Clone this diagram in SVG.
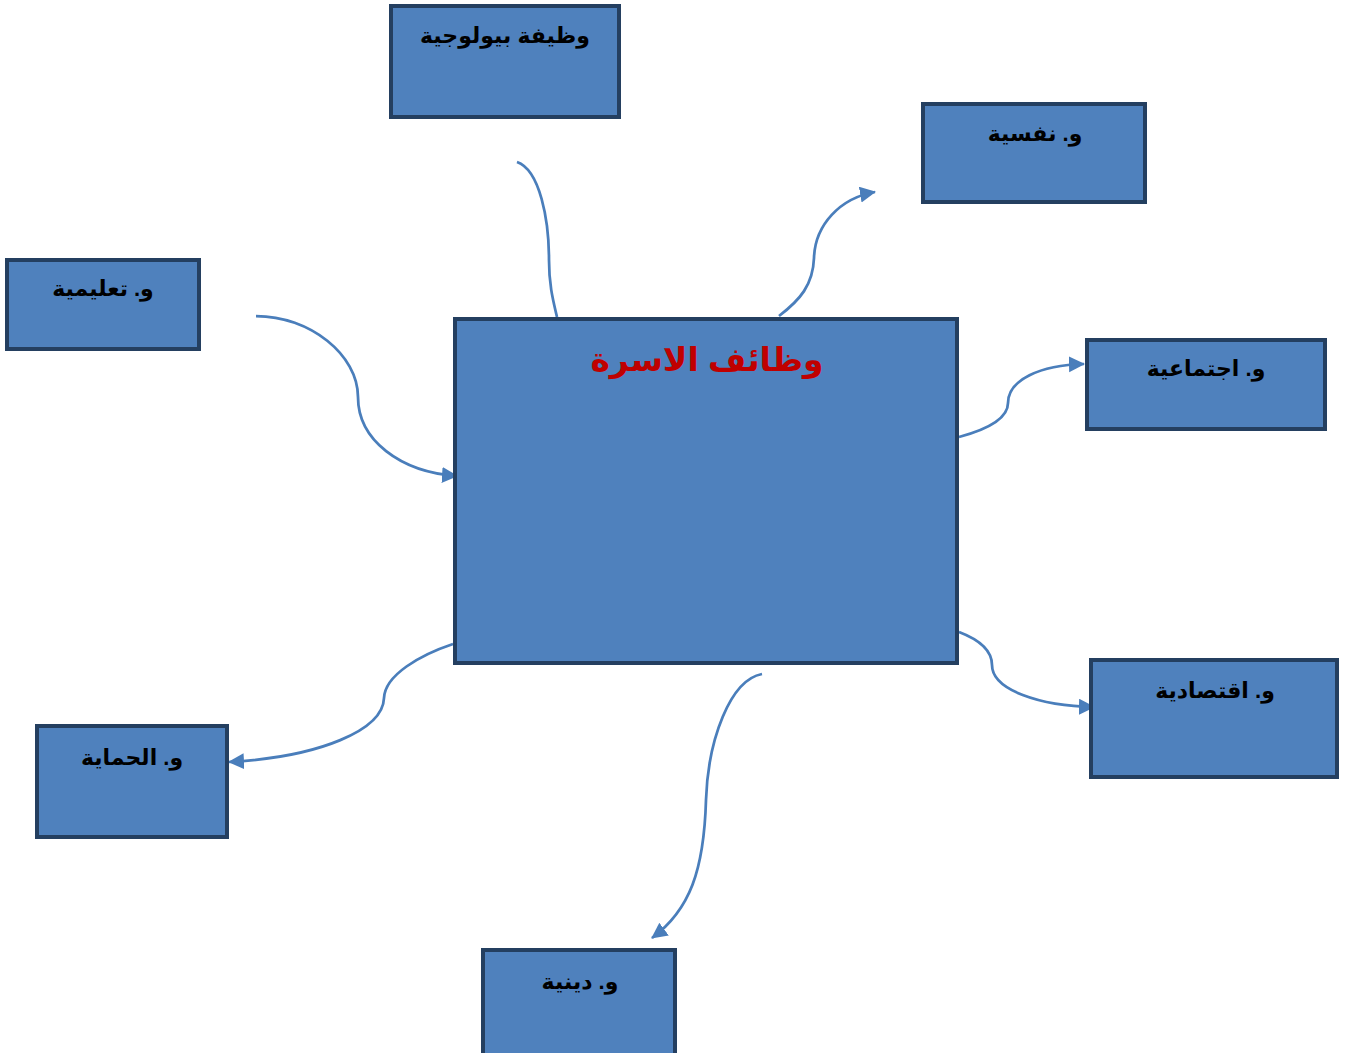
<svg xmlns="http://www.w3.org/2000/svg" width="1346" height="1053" viewBox="0 0 1346 1053">
<style>
.box{fill:#4F81BD;stroke:#243F60;stroke-width:4}
.lbl{font-family:"Liberation Sans","DejaVu Sans","Noto Sans",sans-serif;font-weight:bold;font-size:22px;fill:#000;text-anchor:middle}
.title{font-family:"Liberation Sans","DejaVu Sans","Noto Sans",sans-serif;font-weight:bold;font-size:33px;fill:#C00000;text-anchor:middle}
.con{fill:none;stroke:#4A7EBB;stroke-width:2.75}
</style>
<defs>
<marker id="arr" markerUnits="userSpaceOnUse" markerWidth="20" markerHeight="18" refX="15" refY="8" orient="auto">
<path d="M0,0 L16,8 L0,16 Z" fill="#4A7EBB"/>
</marker>
</defs>
<rect width="1346" height="1053" fill="#fff"/>
<g id="connectors">
<path class="con" d="M517,162 C540,170 549,220 549,260 C549,285 553,300 557,317"/>
<path class="con" marker-end="url(#arr)" d="M779,316 C800,300 813,285 814,258 C815,225 840,198 875,192"/>
<path class="con" marker-end="url(#arr)" d="M256,316 C310,316 358,355 358,397 C358,440 400,472 457,476"/>
<path class="con" marker-end="url(#arr)" d="M959,437 C985,430 1008,420 1008,403 C1008,380 1040,365 1084,364"/>
<path class="con" marker-end="url(#arr)" d="M959,632 C980,640 992,650 992,665 C992,690 1040,706 1094,707"/>
<path class="con" marker-end="url(#arr)" d="M453,644 C420,655 385,675 384,698 C383,730 320,757 229,762"/>
<path class="con" marker-end="url(#arr)" d="M762,674 C730,680 708,740 706,800 C704,870 690,910 652,938"/>
</g>
<g id="center">
<rect class="box" x="455" y="319" width="502" height="344"/>
<text class="title" x="707" y="371" direction="rtl">وظائف الاسرة</text>
</g>
<g id="bio">
<rect class="box" x="391" y="6" width="228" height="111"/>
<text class="lbl" x="505" y="43" direction="rtl">وظيفة بيولوجية</text>
</g>
<g id="nafsia">
<rect class="box" x="923" y="104" width="222" height="98"/>
<text class="lbl" x="1035" y="141" direction="rtl">و. نفسية</text>
</g>
<g id="taalim">
<rect class="box" x="7" y="260" width="192" height="89"/>
<text class="lbl" x="103" y="296" direction="rtl">و. تعليمية</text>
</g>
<g id="ijtima">
<rect class="box" x="1087" y="340" width="238" height="89"/>
<text class="lbl" x="1206" y="376" direction="rtl">و. اجتماعية</text>
</g>
<g id="iqtisad">
<rect class="box" x="1091" y="660" width="246" height="117"/>
<text class="lbl" x="1215" y="698" direction="rtl">و. اقتصادية</text>
</g>
<g id="himaya">
<rect class="box" x="37" y="726" width="190" height="111"/>
<text class="lbl" x="132" y="765" direction="rtl">و. الحماية</text>
</g>
<g id="dinia">
<rect class="box" x="483" y="950" width="192" height="110"/>
<text class="lbl" x="580" y="989" direction="rtl">و. دينية</text>
</g>
</svg>
